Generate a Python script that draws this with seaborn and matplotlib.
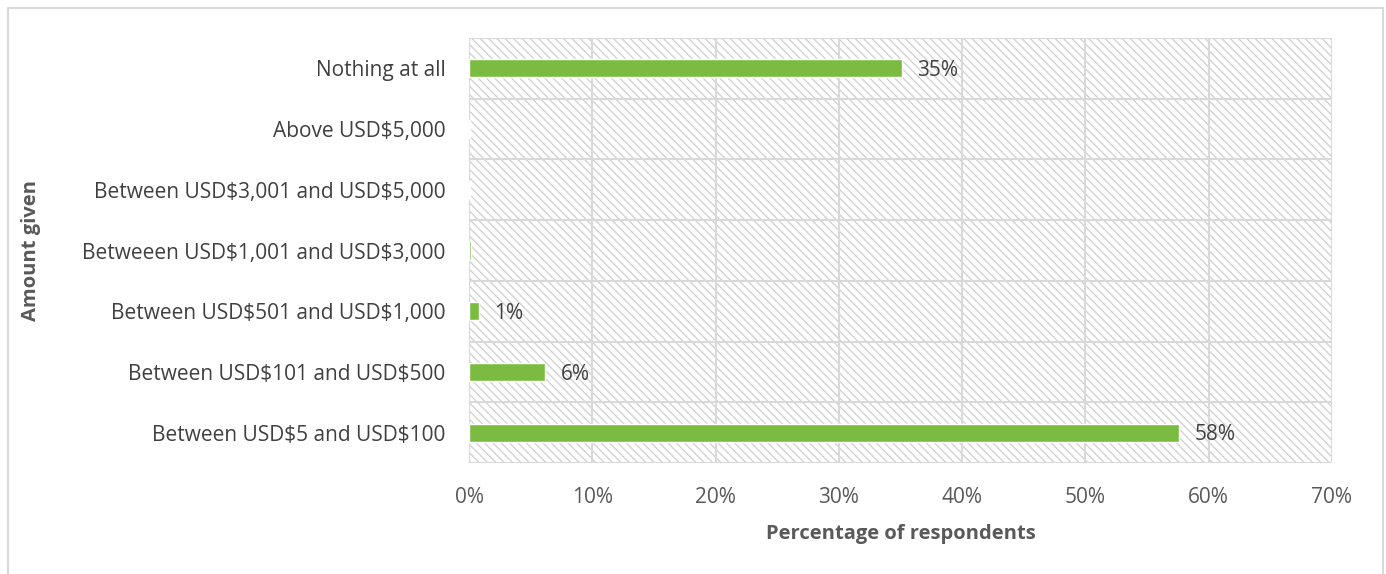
import matplotlib
matplotlib.use("Agg")
import matplotlib.pyplot as plt
from matplotlib.patches import Rectangle
from matplotlib.ticker import FixedLocator, PercentFormatter
import numpy as np
import pandas as pd
import seaborn as sns

# Amount given by respondents (share of respondents, %)
categories = [
    "Nothing at all",
    "Above USD$5,000",
    "Between USD$3,001 and USD$5,000",
    "Betweeen USD$1,001 and USD$3,000",
    "Between USD$501 and USD$1,000",
    "Between USD$101 and USD$500",
    "Between USD$5 and USD$100",
]
shares = [35.1, 0.05, 0.1, 0.18, 0.8, 6.2, 57.6]
x_ticks = [0, 10, 20, 30, 40, 50, 60, 70]

sns.set_theme(style="white")
plt.rcParams["font.family"] = ["Open Sans", "DejaVu Sans"]
plt.rcParams["text.parse_math"] = False
plt.rcParams["hatch.linewidth"] = 0.9

GRID = "#d9d9d9"
HATCH = "#cfcfcf"
TEXT = "#595959"
BAR = "#7cbb42"

df = pd.DataFrame({"category": categories, "share": shares})

fig = plt.figure(figsize=(13.86, 5.74), dpi=100)
ax = fig.add_axes([469 / 1386, 1 - 463 / 574, (1332 - 469) / 1386, (463 - 38) / 574])

# hatched plot background
ax.add_patch(Rectangle((0, 0), 1, 1, transform=ax.transAxes, facecolor="white",
                       edgecolor=HATCH, hatch="\\\\\\\\", linewidth=0, zorder=0))

sns.barplot(data=df, x="share", y="category", order=categories, color=BAR,
            width=0.3, saturation=1, ax=ax, zorder=3)

ax.set_xlim(0, 70)
ax.set_ylim(len(categories) - 0.5, -0.5)
ax.xaxis.set_major_locator(FixedLocator(x_ticks))
ax.xaxis.set_major_formatter(PercentFormatter(decimals=0))
ax.yaxis.set_minor_locator(FixedLocator(np.arange(-0.5, len(categories), 1.0)))

ax.grid(axis="x", which="major", color=GRID, linewidth=1.5, zorder=1)
ax.grid(axis="y", which="minor", color=GRID, linewidth=1.5, zorder=1)
ax.set_axisbelow(True)
for s in ax.spines.values():
    s.set_visible(False)

ax.tick_params(axis="x", which="major", length=0, pad=17, labelsize=15, labelcolor=TEXT)
ax.tick_params(axis="y", which="major", length=0, pad=17, labelsize=15, labelcolor="#404040")
ax.tick_params(axis="y", which="minor", length=7, width=1.5, color=GRID)

ax.set_xlabel("Percentage of respondents", fontsize=14.5, fontweight="bold", color=TEXT, labelpad=12)
ax.set_ylabel("Amount given", fontsize=14.5, fontweight="bold", color=TEXT)
ax.yaxis.set_label_coords(-0.4955, 0.5)

# value labels for the visible bars
for i, v in enumerate(shares):
    if v >= 0.5:
        ax.annotate(f"{v:.0f}%", xy=(v, i), xytext=(11, -1.5), textcoords="offset points",
                    va="center", ha="left", fontsize=15, color="#404040", zorder=4)

# outer frame of the chart area
fig.patches.append(Rectangle((8 / 1386, -0.05), (1383 - 8) / 1386, 1.05 - 8 / 574,
                             transform=fig.transFigure, fill=False,
                             edgecolor=GRID, linewidth=1.5))

fig.savefig("out.png", dpi=100, facecolor="white")
